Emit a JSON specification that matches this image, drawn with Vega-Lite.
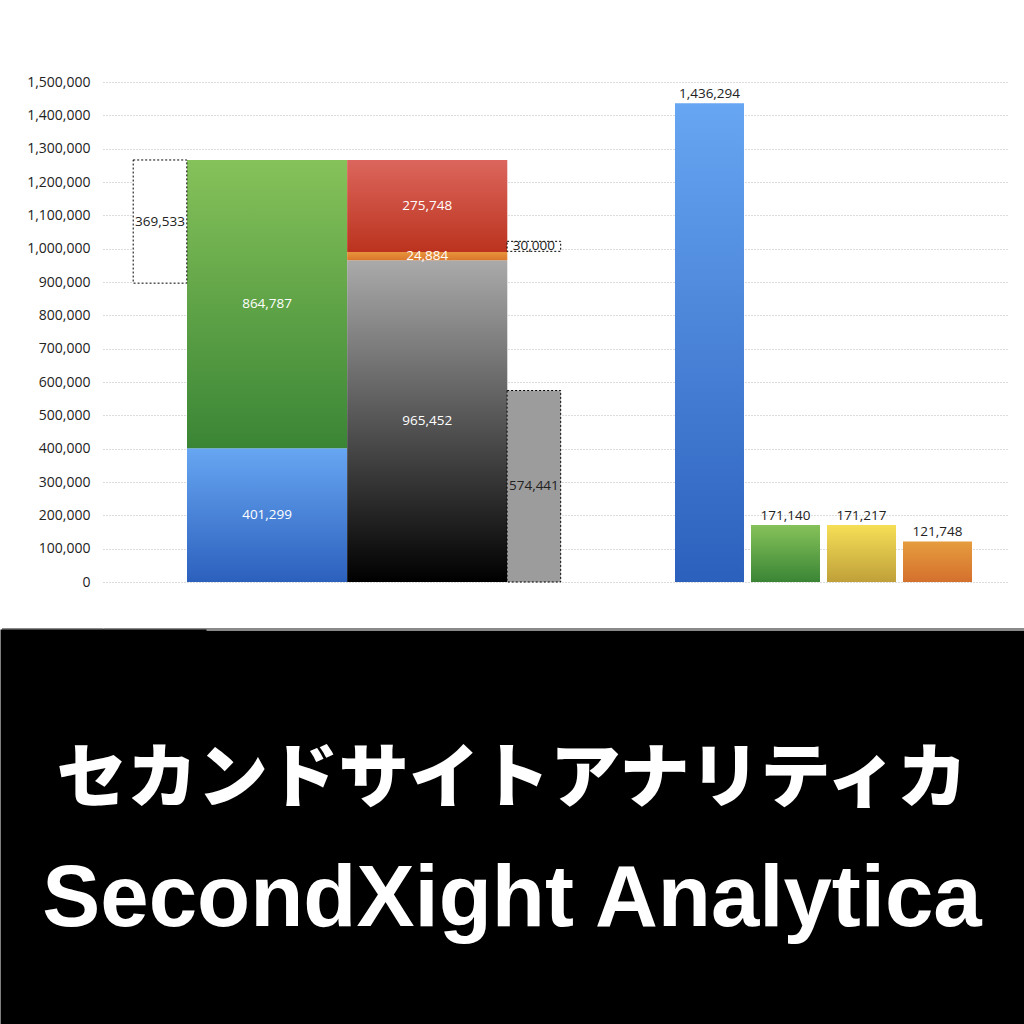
{
  "$schema": "https://vega.github.io/schema/vega-lite/v6.json",
  "padding": {"left": 0, "top": 75, "right": 0, "bottom": 0},
  "background": "white",
  "config": {
    "view": {"stroke": null},
    "concat": {"spacing": 38},
    "axisY": {
      "grid": true,
      "gridDash": [1, 2],
      "gridColor": "#b8b8b8",
      "gridWidth": 1,
      "domain": false,
      "ticks": false,
      "labelPadding": 13,
      "labelFont": "Open Sans",
      "labelFontSize": 14,
      "labelColor": "#222222",
      "minExtent": 103
    }
  },
  "datasets": {
    "main": [
      {"col": "B", "part": "blue", "start": 0, "end": 401299, "value": 401299},
      {"col": "B", "part": "green", "start": 401299, "end": 1266086, "value": 864787},
      {"col": "C", "part": "gray", "start": 0, "end": 965452, "value": 965452},
      {"col": "C", "part": "orange", "start": 965452, "end": 990336, "value": 24884},
      {"col": "C", "part": "red", "start": 990336, "end": 1266084, "value": 275748}
    ],
    "side": [
      {"col": "A", "part": "gap", "start": 896553, "end": 1266086, "value": 369533},
      {"col": "D", "part": "extra", "start": 992000, "end": 1022000, "value": 30000},
      {"col": "D", "part": "rest", "start": 0, "end": 574441, "value": 574441}
    ],
    "right": [
      {"col": "E", "part": "blue", "value": 1436294},
      {"col": "F", "part": "green", "value": 171140},
      {"col": "G", "part": "yellow", "value": 171217},
      {"col": "H", "part": "orange", "value": 121748}
    ],
    "banner": [
      {"line": "jp", "text": "セカンドサイトアナリティカ"},
      {"line": "en", "text": "SecondXight Analytica"}
    ]
  },
  "vconcat": [
    {
      "width": 904,
      "height": 500,
      "resolve": {"scale": {"x": "independent"}},
      "layer": [
        {
          "data": {"name": "main"},
          "encoding": {
            "x": {"field": "col", "type": "nominal", "axis": null,
                  "scale": {"domain": ["B", "C", "x1", "x2"], "paddingInner": 0, "paddingOuter": 0.8223, "align": 0.3189, "round": false}}
          },
          "layer": [
            {
              "transform": [{"filter": "datum.part === 'blue'"}],
              "mark": {"type": "bar", "color": {"gradient": "linear", "x1": 0, "y1": 0, "x2": 0, "y2": 1, "stops": [{"offset": 0, "color": "#67a6f2"}, {"offset": 1, "color": "#2c60bd"}]}},
              "encoding": {
                "y": {"field": "end", "type": "quantitative", "title": null, "scale": {"domain": [0, 1500000], "nice": false}, "axis": {"format": ",", "tickCount": 15, "labelExpr": "format(datum.value, ',')"}},
                "y2": {"field": "start"}
              }
            },
            {
              "transform": [{"filter": "datum.part === 'green'"}],
              "mark": {"type": "bar", "color": {"gradient": "linear", "x1": 0, "y1": 0, "x2": 0, "y2": 1, "stops": [{"offset": 0, "color": "#86c25a"}, {"offset": 1, "color": "#3a8535"}]}},
              "encoding": {
                "y": {"field": "end", "type": "quantitative", "title": null, "scale": {"domain": [0, 1500000], "nice": false}, "axis": {"format": ",", "tickCount": 15, "labelExpr": "format(datum.value, ',')"}},
                "y2": {"field": "start"}
              }
            },
            {
              "transform": [{"filter": "datum.part === 'gray'"}],
              "mark": {"type": "bar", "color": {"gradient": "linear", "x1": 0, "y1": 0, "x2": 0, "y2": 1, "stops": [{"offset": 0, "color": "#aaaaaa"}, {"offset": 1, "color": "#000000"}]}},
              "encoding": {
                "y": {"field": "end", "type": "quantitative", "title": null, "scale": {"domain": [0, 1500000], "nice": false}, "axis": {"format": ",", "tickCount": 15, "labelExpr": "format(datum.value, ',')"}},
                "y2": {"field": "start"}
              }
            },
            {
              "transform": [{"filter": "datum.part === 'orange'"}],
              "mark": {"type": "bar", "color": {"gradient": "linear", "x1": 0, "y1": 0, "x2": 0, "y2": 1, "stops": [{"offset": 0, "color": "#e8953c"}, {"offset": 1, "color": "#da772c"}]}},
              "encoding": {
                "y": {"field": "end", "type": "quantitative", "title": null, "scale": {"domain": [0, 1500000], "nice": false}, "axis": {"format": ",", "tickCount": 15, "labelExpr": "format(datum.value, ',')"}},
                "y2": {"field": "start"}
              }
            },
            {
              "transform": [{"filter": "datum.part === 'red'"}],
              "mark": {"type": "bar", "color": {"gradient": "linear", "x1": 0, "y1": 0, "x2": 0, "y2": 1, "stops": [{"offset": 0, "color": "#dc665d"}, {"offset": 1, "color": "#bb331e"}]}},
              "encoding": {
                "y": {"field": "end", "type": "quantitative", "title": null, "scale": {"domain": [0, 1500000], "nice": false}, "axis": {"format": ",", "tickCount": 15, "labelExpr": "format(datum.value, ',')"}},
                "y2": {"field": "start"}
              }
            },
            {
              "transform": [
                {"fold": ["start", "end"], "as": ["k", "v"]},
                {"aggregate": [{"op": "mean", "field": "v", "as": "mid"}], "groupby": ["col", "part", "value"]}
              ],
              "mark": {"type": "text", "font": "Open Sans", "fontSize": 13.5, "color": "white", "baseline": "middle", "align": "center"},
              "encoding": {
                "y": {"field": "mid", "type": "quantitative", "title": null, "scale": {"domain": [0, 1500000], "nice": false}, "axis": {"format": ",", "tickCount": 15, "labelExpr": "format(datum.value, ',')"}},
                "text": {"field": "value", "type": "quantitative", "format": ","}
              }
            }
          ]
        },
        {
          "data": {"name": "side"},
          "encoding": {
            "x": {"field": "col", "type": "nominal", "axis": null,
                  "scale": {"domain": ["A", "D"], "paddingInner": 0.85665, "paddingOuter": 0.63721, "align": 0.06338, "round": false}}
          },
          "layer": [
            {
              "transform": [{"filter": "datum.part !== 'rest'"}],
              "mark": {"type": "bar", "fill": "white", "stroke": "black", "strokeDash": [2, 2], "strokeWidth": 1},
              "encoding": {
                "y": {"field": "end", "type": "quantitative", "title": null, "scale": {"domain": [0, 1500000], "nice": false}, "axis": {"format": ",", "tickCount": 15, "labelExpr": "format(datum.value, ',')"}},
                "y2": {"field": "start"}
              }
            },
            {
              "transform": [{"filter": "datum.part === 'rest'"}],
              "mark": {"type": "bar", "fill": "#9c9c9c", "stroke": "black", "strokeDash": [2, 2], "strokeWidth": 1},
              "encoding": {
                "y": {"field": "end", "type": "quantitative", "title": null, "scale": {"domain": [0, 1500000], "nice": false}, "axis": {"format": ",", "tickCount": 15, "labelExpr": "format(datum.value, ',')"}},
                "y2": {"field": "start"}
              }
            },
            {
              "transform": [
                {"fold": ["start", "end"], "as": ["k", "v"]},
                {"aggregate": [{"op": "mean", "field": "v", "as": "mid"}], "groupby": ["col", "part", "value"]}
              ],
              "mark": {"type": "text", "font": "Open Sans", "fontSize": 13.5, "color": "#222222", "baseline": "middle", "align": "center"},
              "encoding": {
                "y": {"field": "mid", "type": "quantitative", "title": null, "scale": {"domain": [0, 1500000], "nice": false}, "axis": {"format": ",", "tickCount": 15, "labelExpr": "format(datum.value, ',')"}},
                "text": {"field": "value", "type": "quantitative", "format": ","}
              }
            }
          ]
        },
        {
          "data": {"name": "right"},
          "encoding": {
            "x": {"field": "col", "type": "nominal", "axis": null,
                  "scale": {"domain": ["r1", "r2", "r3", "r4", "r5", "r6", "r7", "E", "F", "G", "H"], "paddingInner": 0.092105, "paddingOuter": 0.49342, "align": 0.5333, "round": false}},
            "y": {"field": "value", "type": "quantitative", "title": null, "scale": {"domain": [0, 1500000], "nice": false}, "axis": {"format": ",", "tickCount": 15, "labelExpr": "format(datum.value, ',')"}}
          },
          "layer": [
            {
              "transform": [{"filter": "datum.part === 'blue'"}],
              "mark": {"type": "bar", "color": {"gradient": "linear", "x1": 0, "y1": 0, "x2": 0, "y2": 1, "stops": [{"offset": 0, "color": "#67a6f2"}, {"offset": 1, "color": "#2c60bd"}]}}
            },
            {
              "transform": [{"filter": "datum.part === 'green'"}],
              "mark": {"type": "bar", "color": {"gradient": "linear", "x1": 0, "y1": 0, "x2": 0, "y2": 1, "stops": [{"offset": 0, "color": "#86c25a"}, {"offset": 1, "color": "#3a8535"}]}}
            },
            {
              "transform": [{"filter": "datum.part === 'yellow'"}],
              "mark": {"type": "bar", "color": {"gradient": "linear", "x1": 0, "y1": 0, "x2": 0, "y2": 1, "stops": [{"offset": 0, "color": "#f6df56"}, {"offset": 1, "color": "#bfa03a"}]}}
            },
            {
              "transform": [{"filter": "datum.part === 'orange'"}],
              "mark": {"type": "bar", "color": {"gradient": "linear", "x1": 0, "y1": 0, "x2": 0, "y2": 1, "stops": [{"offset": 0, "color": "#e69c3e"}, {"offset": 1, "color": "#d4702d"}]}}
            },
            {
              "mark": {"type": "text", "font": "Open Sans", "fontSize": 13.5, "color": "#222222", "baseline": "bottom", "align": "center", "dy": -2},
              "encoding": {
                "text": {"field": "value", "type": "quantitative", "format": ","}
              }
            }
          ]
        }
      ]
    },
    {
      "width": 921,
      "height": 397,
      "view": {"fill": "black", "stroke": null},
      "data": {"name": "banner"},
      "encoding": {
        "x": {"datum": "c", "type": "nominal", "scale": {"domain": ["c"], "align": 0.4441},
              "axis": {"orient": "top", "title": null, "labels": false, "ticks": false, "grid": false, "domain": true, "domainColor": "#8a8a8a", "domainWidth": 3}},
        "y": {"field": "line", "type": "nominal",
              "scale": {"domain": ["top", "jp", "en", "bottom"], "padding": 0},
              "axis": {"values": ["top"], "title": null, "labels": false, "grid": false,
                       "domain": true, "domainColor": "black", "domainWidth": 206,
                       "ticks": true, "tickSize": 101.5, "tickWidth": 3, "tickColor": "#8a8a8a", "minExtent": 103}},
        "text": {"field": "text"}
      },
      "layer": [
        {
          "transform": [{"filter": "datum.line === 'jp'"}],
          "mark": {"type": "text", "font": "Noto Sans CJK JP", "fontWeight": 900, "fontSize": 70.5, "color": "white", "align": "center", "baseline": "middle", "dy": 20}
        },
        {
          "transform": [{"filter": "datum.line === 'en'"}],
          "mark": {"type": "text", "font": "Liberation Sans", "fontWeight": "bold", "fontSize": 87, "color": "white", "align": "center", "baseline": "middle", "dy": 6}
        }
      ]
    }
  ]
}
